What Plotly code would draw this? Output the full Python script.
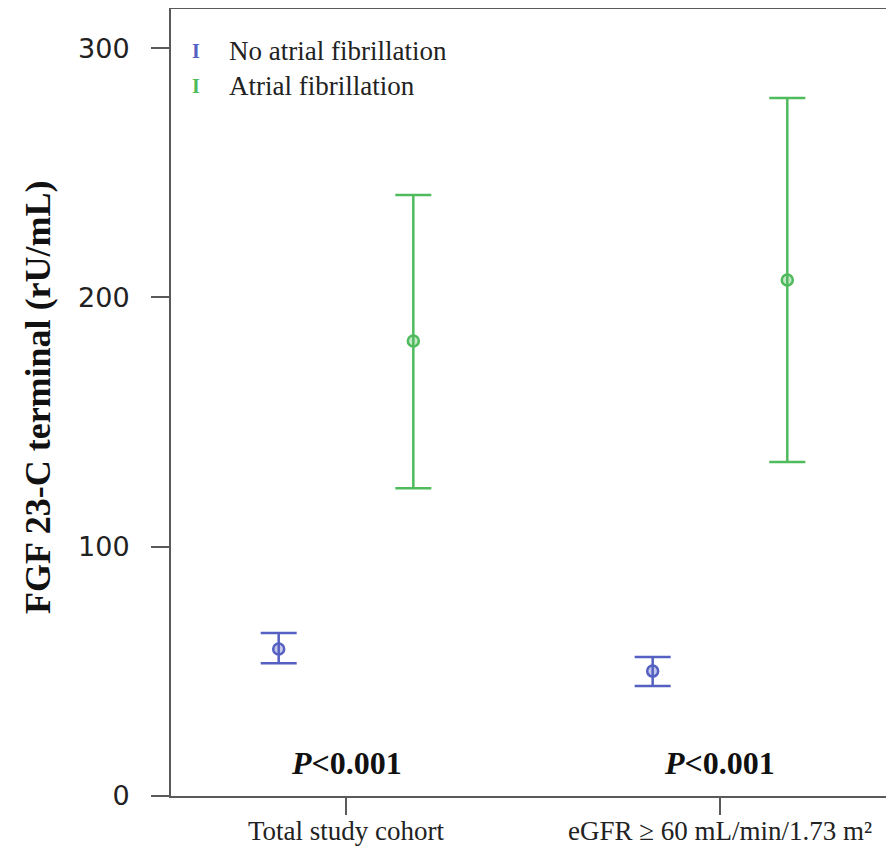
import plotly.graph_objects as go

categories = ["Total study cohort", "eGFR ≥ 60 mL/min/1.73 m²"]
p_labels = ["<i>P</i><0.001", "<i>P</i><0.001"]
y_title = "FGF 23-C terminal (rU/mL)"

no_af_mean = [59.0, 50.1]
no_af_lower = [53.3, 44.1]
no_af_upper = [65.4, 55.8]

af_mean = [182.5, 207.0]
af_lower = [123.5, 134.0]
af_upper = [241.1, 280.0]

series_names = ["No atrial fibrillation", "Atrial fibrillation"]
blue = "#5560c2"
green = "#4fbb5c"

offset = 0.18
idx = list(range(len(categories)))

fig = go.Figure()

def add_series(mean, lower, upper, color, fill, shift, name):
    fig.add_trace(go.Scatter(
        x=[i + shift for i in idx],
        y=mean,
        mode="markers",
        name=name,
        showlegend=False,
        marker=dict(symbol="circle", size=11, color=fill,
                    line=dict(color=color, width=2.5)),
        error_y=dict(type="data", symmetric=False,
                     array=[u - m for u, m in zip(upper, mean)],
                     arrayminus=[m - l for m, l in zip(mean, lower)],
                     color=color, thickness=2.5, width=18),
    ))

add_series(no_af_mean, no_af_lower, no_af_upper, blue, "rgba(85,96,194,0.35)", -offset, series_names[0])
add_series(af_mean, af_lower, af_upper, green, "rgba(79,187,92,0.35)", offset, series_names[1])

# P-value annotations
for i, txt in zip(idx, p_labels):
    fig.add_annotation(x=i, y=13.2, xref="x", yref="y", text="<b>" + txt + "</b>",
                       showarrow=False,
                       font=dict(family="Liberation Serif", size=32, color="#111"))

# legend (drawn as text)
legend_y = [0.9466, 0.902]
for name, color, ly in zip(series_names, [blue, green], legend_y):
    fig.add_annotation(x=0.0347, y=ly, xref="paper", yref="paper", text="<b>I</b>",
                       showarrow=False, xanchor="center", yanchor="middle",
                       font=dict(family="Liberation Serif", size=20, color=color))
    fig.add_annotation(x=0.077, y=ly, xref="paper", yref="paper", text=name,
                       showarrow=False, xanchor="left", yanchor="middle",
                       font=dict(family="Liberation Serif", size=27, color="#222"))

# y-axis title
fig.add_annotation(x=-0.1845, y=0.507, xref="paper", yref="paper",
                   text="<b>" + y_title + "</b>", textangle=-90, showarrow=False,
                   xanchor="center", yanchor="middle",
                   font=dict(family="Liberation Serif", size=36, color="#111"))

axis_color = "#5a5a5a"
fig.update_layout(
    width=886, height=841,
    margin=dict(l=163, r=2, t=1, b=53, autoexpand=False),
    paper_bgcolor="white", plot_bgcolor="white",
    showlegend=False,
    xaxis=dict(range=[-0.468, 1.46], tickvals=idx, ticktext=categories,
               automargin=False,
               showgrid=False, zeroline=False, showline=True, linecolor=axis_color,
               linewidth=2, mirror=True, ticks="outside", ticklen=17, tickwidth=1.5,
               tickcolor=axis_color, ticklabelstandoff=-7,
               tickfont=dict(family="Liberation Serif", size=27, color="#222")),
    yaxis=dict(range=[0, 315.7], tickvals=[0, 100, 200, 300],
               automargin=False,
               showgrid=False, zeroline=False, showline=True, linecolor=axis_color,
               linewidth=2, mirror=True, ticks="outside", ticklen=18, tickwidth=2,
               tickcolor=axis_color, ticklabelstandoff=16,
               tickfont=dict(family="DejaVu Sans", size=27, color="#222")),
)

fig.write_html("out.html")
